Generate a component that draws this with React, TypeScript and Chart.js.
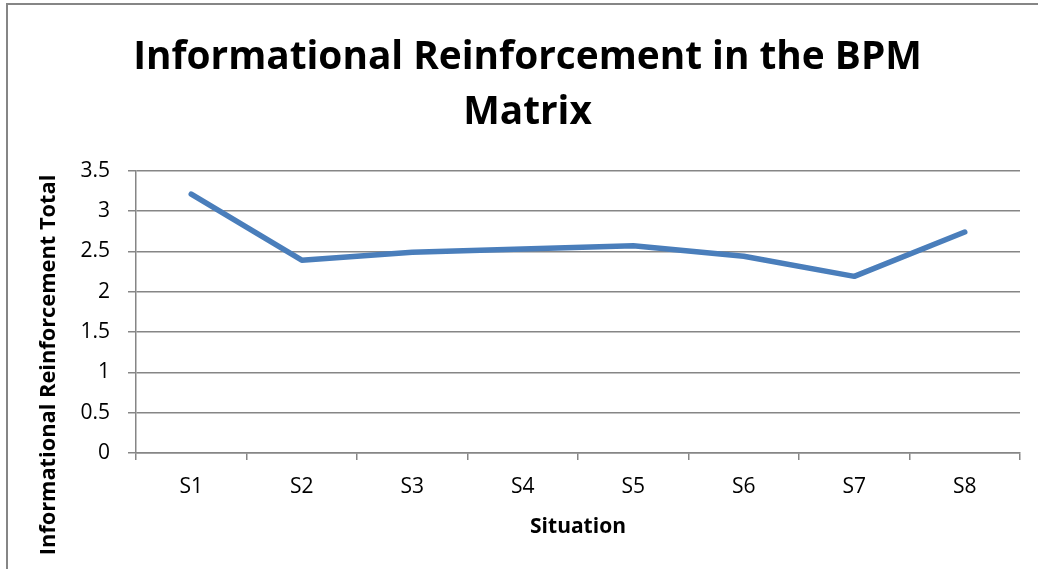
import React, { useEffect, useRef } from "react";
import { Chart, registerables } from "chart.js";

Chart.register(...registerables);

const categories = ["S1", "S2", "S3", "S4", "S5", "S6", "S7", "S8"];
const totals = [3.21, 2.39, 2.49, 2.53, 2.57, 2.44, 2.19, 2.74];
const titleLines = ["Informational Reinforcement in the BPM", "Matrix"];
const yTitle = "Informational Reinforcement Total";
const xTitle = "Situation";

const FONT = "'Open Sans', 'DejaVu Sans', sans-serif";
const GRID = "#868686";

Chart.defaults.font.family = FONT;
Chart.defaults.font.size = 21;
Chart.defaults.color = "#000";

const axisTitles = {
  id: "axisTitles",
  afterDraw(chart: any) {
    const ctx = chart.ctx;
    ctx.save();
    ctx.fillStyle = "#000";
    ctx.textAlign = "center";
    ctx.textBaseline = "alphabetic";
    ctx.font = `bold 21px ${FONT}`;
    ctx.fillText(xTitle, 578, 533);
    ctx.font = `bold 21.8px ${FONT}`;
    ctx.translate(55, 365);
    ctx.rotate(-Math.PI / 2);
    ctx.fillText(yTitle, 0, 0);
    ctx.restore();
  },
};

export default function App() {
  const ref = useRef<HTMLCanvasElement>(null);
  useEffect(() => {
    if (!ref.current) return;
    const chart = new Chart(ref.current, {
      type: "line",
      data: {
        labels: categories,
        datasets: [
          {
            data: totals,
            borderColor: "#4A7EBB",
            borderWidth: 5.5,
            borderCapStyle: "round",
            borderJoinStyle: "round",
            pointRadius: 0,
            tension: 0,
            fill: false,
          },
        ],
      },
      options: {
        animation: false,
        responsive: false,
        layout: { padding: { left: 35, right: 18, top: 0, bottom: 0 } },
        plugins: {
          legend: { display: false },
          tooltip: { enabled: false },
          title: {
            display: true,
            text: titleLines,
            color: "#000",
            font: { family: FONT, size: 38.8, weight: "bold", lineHeight: 1.42 },
            padding: { top: 30, bottom: 30.5 },
          },
        },
        scales: {
          x: {
            offset: true,
            grid: {
              offset: true,
              drawOnChartArea: false,
              drawTicks: true,
              tickLength: 7,
              color: GRID,
              lineWidth: 1.5,
            },
            border: { display: true, color: GRID, width: 1.5 },
            ticks: {
              color: "#000",
              font: { family: FONT, size: 21 },
              padding: 14,
              maxRotation: 0,
            },
            afterFit(scale: any) {
              scale.height = 116;
            },
          },
          y: {
            min: 0,
            max: 3.5,
            ticks: {
              stepSize: 0.5,
              color: "#000",
              font: { family: FONT, size: 21 },
              padding: 18,
              callback: (v: any) => String(v),
            },
            grid: {
              color: GRID,
              lineWidth: 1.5,
              tickLength: 8,
            },
            border: { display: true, color: GRID, width: 1.5 },
            afterFit(scale: any) {
              scale.width = 101;
            },
          },
        },
      },
      plugins: [axisTitles],
    } as any);
    return () => chart.destroy();
  }, []);

  return (
    <div
      style={{
        position: "absolute",
        left: 0,
        top: 0,
        width: 1038,
        height: 569,
        overflow: "hidden",
        background: "#fff",
      }}
    >
      <div
        style={{
          position: "absolute",
          left: 6,
          top: 3,
          width: 1200,
          height: 800,
          border: `2px solid ${GRID}`,
          boxSizing: "border-box",
        }}
      />
      <canvas
        ref={ref}
        width={1038}
        height={569}
        style={{ position: "absolute", left: 0, top: 0 }}
      />
    </div>
  );
}
